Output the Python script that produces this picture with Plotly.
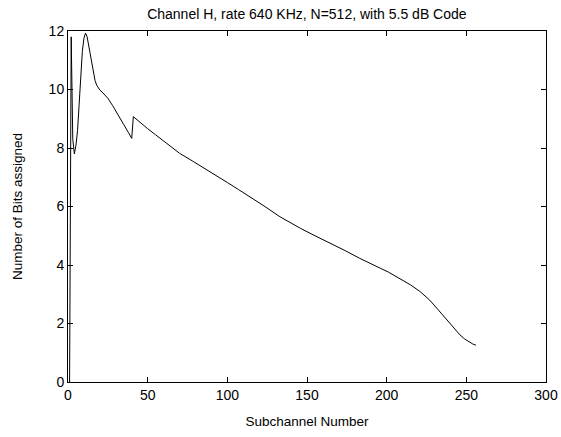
import plotly.graph_objects as go

subchannel = [1, 2, 3, 4, 5, 6, 7, 8, 9, 10, 11, 12, 13, 14, 15, 16, 17, 18, 20, 22, 25,
              28, 30, 33, 35, 38, 40,
              41, 45, 50, 55, 60, 65, 70, 78, 86, 93, 100, 107, 114, 123, 133, 140, 146,
              155, 165, 174, 183, 190, 196, 201, 205, 210, 215, 221, 227, 232, 238,
              242, 246, 249, 252, 254, 256]
bits = [0, 11.8, 8.3, 7.8, 8.1, 8.6, 9.5, 10.6, 11.3, 11.75, 11.93, 11.8, 11.5, 11.15,
        10.85, 10.55, 10.3, 10.15, 9.98, 9.88, 9.7,
        9.45, 9.25, 8.98, 8.8, 8.52, 8.33,
        9.07, 8.88, 8.66, 8.45, 8.25, 8.03, 7.82, 7.56, 7.3, 7.05, 6.82, 6.58, 6.34,
        6.02, 5.65, 5.43, 5.25, 5.0, 4.74, 4.49, 4.23, 4.06, 3.89, 3.76, 3.63, 3.49,
        3.32, 3.09, 2.80, 2.49, 2.12, 1.86, 1.61, 1.47, 1.36, 1.30, 1.26]

x_ticks = [0, 50, 100, 150, 200, 250, 300]
y_ticks = [0, 2, 4, 6, 8, 10, 12]

fig = go.Figure(go.Scatter(x=subchannel, y=bits, mode="lines",
                           line=dict(color="black", width=1)))

axis_common = dict(showline=True, linecolor="black", linewidth=1, mirror="ticks",
                   ticks="inside", ticklen=5, tickcolor="black", showgrid=False,
                   zeroline=False, automargin=False,
                   tickfont=dict(size=14, color="black"))

fig.update_layout(
    width=561, height=437,
    margin=dict(l=68, r=15, t=31, b=55),
    paper_bgcolor="white", plot_bgcolor="white",
    font=dict(family="Liberation Sans, Arial, sans-serif", color="black"),
    title=dict(text="Channel H, rate 640 KHz, N=512, with 5.5 dB Code",
               x=0.547, xanchor="center", y=0.968, yanchor="middle",
               font=dict(size=14)),
    xaxis=dict(range=[0, 300], tickvals=x_ticks,
               title=dict(text="Subchannel Number", font=dict(size=13.5), standoff=14),
               **axis_common),
    yaxis=dict(range=[0, 12], tickvals=y_ticks,
               title=dict(text="Number of Bits assigned", font=dict(size=13.5), standoff=22),
               **axis_common),
    showlegend=False,
)

fig.write_html("out.html", config={"displayModeBar": False},
               post_script="document.body.style.margin='0';document.body.style.overflow='hidden';")
